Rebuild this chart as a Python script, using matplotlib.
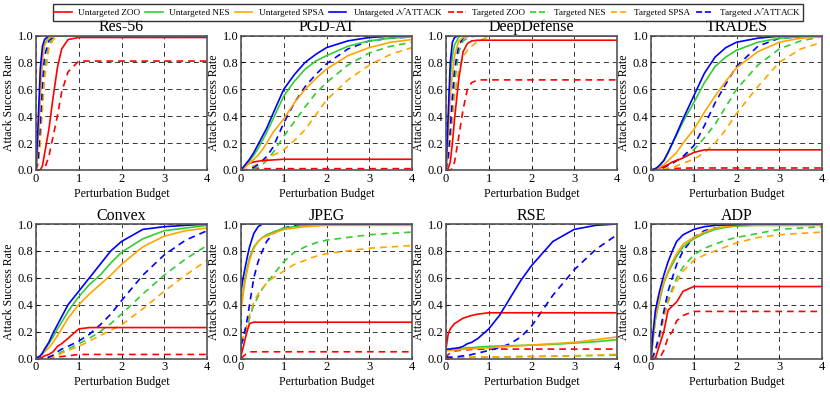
import matplotlib
matplotlib.use("Agg")
import matplotlib.pyplot as plt
from matplotlib.lines import Line2D

plt.rcParams['font.family'] = ['Liberation Serif', 'DejaVu Serif']
plt.rcParams['mathtext.fontset'] = 'stix'

# budget grid shared by all curves
budget = [0, 0.05, 0.1, 0.15, 0.2, 0.3, 0.4, 0.5, 0.6, 0.75, 1.0, 1.25, 1.5, 1.75, 2.0, 2.5, 3.0, 3.5, 4.0]

series_names = ['Untargeted ZOO', 'Untargeted NES', 'Untargeted SPSA', 'Untargeted $\\mathcal{N}$ATTACK',
                'Targeted ZOO', 'Targeted NES', 'Targeted SPSA', 'Targeted $\\mathcal{N}$ATTACK']
colors = ['#ff0000', '#33cc33', '#ffa500', '#0000ff'] * 2
styles = ['-'] * 4 + ['--'] * 4

panel_titles = ['Res-56', 'PGD-AT', 'DeepDefense', 'TRADES', 'Convex', 'JPEG', 'RSE', 'ADP']

# order: UZOO, UNES, USPSA, UNATT, TZOO, TNES, TSPSA, TNATT
res56 = [
    [0, 0, 0, 0.03, 0.12, 0.3, 0.54, 0.76, 0.9, 0.97, 0.985, 0.985, 0.985, 0.985, 0.985, 0.985, 0.985, 0.985, 0.985],
    [0, 0.25, 0.6, 0.85, 0.94, 0.99, 1.0, 1.0, 1.0, 1.0, 1.0, 1.0, 1.0, 1.0, 1.0, 1.0, 1.0, 1.0, 1.0],
    [0, 0.2, 0.55, 0.82, 0.93, 0.98, 0.995, 1.0, 1.0, 1.0, 1.0, 1.0, 1.0, 1.0, 1.0, 1.0, 1.0, 1.0, 1.0],
    [0, 0.35, 0.75, 0.92, 0.97, 1.0, 1.0, 1.0, 1.0, 1.0, 1.0, 1.0, 1.0, 1.0, 1.0, 1.0, 1.0, 1.0, 1.0],
    [0, 0, 0, 0, 0.01, 0.1, 0.25, 0.4, 0.58, 0.73, 0.81, 0.81, 0.81, 0.81, 0.81, 0.81, 0.81, 0.81, 0.81],
    [0, 0.05, 0.25, 0.55, 0.75, 0.93, 0.98, 1.0, 1.0, 1.0, 1.0, 1.0, 1.0, 1.0, 1.0, 1.0, 1.0, 1.0, 1.0],
    [0, 0.04, 0.2, 0.45, 0.68, 0.9, 0.97, 0.99, 1.0, 1.0, 1.0, 1.0, 1.0, 1.0, 1.0, 1.0, 1.0, 1.0, 1.0],
    [0, 0.08, 0.35, 0.65, 0.85, 0.96, 0.99, 1.0, 1.0, 1.0, 1.0, 1.0, 1.0, 1.0, 1.0, 1.0, 1.0, 1.0, 1.0],
]
pgd_at = [
    [0, 0.01, 0.03, 0.04, 0.05, 0.06, 0.065, 0.07, 0.072, 0.075, 0.08, 0.08, 0.08, 0.08, 0.08, 0.08, 0.08, 0.08, 0.08],
    [0, 0.01, 0.03, 0.05, 0.07, 0.11, 0.16, 0.22, 0.28, 0.38, 0.55, 0.66, 0.75, 0.81, 0.85, 0.92, 0.96, 0.98, 0.99],
    [0, 0.01, 0.02, 0.04, 0.05, 0.08, 0.11, 0.15, 0.2, 0.28, 0.38, 0.5, 0.6, 0.68, 0.75, 0.85, 0.91, 0.95, 0.97],
    [0, 0.02, 0.04, 0.06, 0.08, 0.13, 0.19, 0.25, 0.31, 0.42, 0.6, 0.71, 0.8, 0.86, 0.91, 0.96, 0.985, 0.995, 1.0],
    [0, 0, 0, 0, 0.005, 0.01, 0.01, 0.01, 0.01, 0.01, 0.01, 0.01, 0.01, 0.01, 0.01, 0.01, 0.01, 0.01, 0.01],
    [0, 0, 0, 0, 0.005, 0.01, 0.02, 0.04, 0.07, 0.13, 0.25, 0.36, 0.47, 0.57, 0.65, 0.78, 0.87, 0.92, 0.95],
    [0, 0, 0, 0.01, 0.02, 0.03, 0.045, 0.06, 0.08, 0.11, 0.15, 0.22, 0.3, 0.41, 0.52, 0.67, 0.78, 0.86, 0.91],
    [0, 0, 0, 0, 0.005, 0.02, 0.04, 0.07, 0.1, 0.17, 0.35, 0.5, 0.62, 0.71, 0.79, 0.9, 0.96, 0.98, 0.99],
]
deepdefense = [
    [0, 0.01, 0.06, 0.2, 0.38, 0.68, 0.88, 0.94, 0.96, 0.965, 0.965, 0.965, 0.965, 0.965, 0.965, 0.965, 0.965, 0.965, 0.965],
    [0, 0.3, 0.7, 0.85, 0.93, 0.99, 1.0, 1.0, 1.0, 1.0, 1.0, 1.0, 1.0, 1.0, 1.0, 1.0, 1.0, 1.0, 1.0],
    [0, 0.25, 0.55, 0.72, 0.85, 0.96, 0.985, 0.99, 1.0, 1.0, 1.0, 1.0, 1.0, 1.0, 1.0, 1.0, 1.0, 1.0, 1.0],
    [0, 0.4, 0.8, 0.95, 0.985, 1.0, 1.0, 1.0, 1.0, 1.0, 1.0, 1.0, 1.0, 1.0, 1.0, 1.0, 1.0, 1.0, 1.0],
    [0, 0, 0, 0.01, 0.06, 0.25, 0.45, 0.6, 0.65, 0.67, 0.67, 0.67, 0.67, 0.67, 0.67, 0.67, 0.67, 0.67, 0.67],
    [0, 0.08, 0.25, 0.45, 0.65, 0.88, 0.96, 0.98, 0.99, 1.0, 1.0, 1.0, 1.0, 1.0, 1.0, 1.0, 1.0, 1.0, 1.0],
    [0, 0.06, 0.2, 0.38, 0.55, 0.75, 0.84, 0.89, 0.92, 0.96, 0.99, 1.0, 1.0, 1.0, 1.0, 1.0, 1.0, 1.0, 1.0],
    [0, 0.1, 0.3, 0.55, 0.75, 0.93, 0.98, 1.0, 1.0, 1.0, 1.0, 1.0, 1.0, 1.0, 1.0, 1.0, 1.0, 1.0, 1.0],
]
trades = [
    [0, 0, 0.005, 0.01, 0.015, 0.025, 0.04, 0.06, 0.07, 0.09, 0.13, 0.15, 0.15, 0.15, 0.15, 0.15, 0.15, 0.15, 0.15],
    [0, 0.005, 0.01, 0.02, 0.035, 0.07, 0.13, 0.2, 0.26, 0.36, 0.5, 0.65, 0.77, 0.84, 0.89, 0.95, 0.98, 0.99, 0.99],
    [0, 0.003, 0.007, 0.01, 0.02, 0.04, 0.07, 0.1, 0.13, 0.2, 0.3, 0.43, 0.55, 0.66, 0.76, 0.88, 0.95, 0.98, 0.99],
    [0, 0.005, 0.01, 0.02, 0.035, 0.07, 0.13, 0.2, 0.27, 0.38, 0.55, 0.72, 0.84, 0.91, 0.95, 0.98, 0.995, 1.0, 1.0],
    [0, 0, 0, 0, 0, 0.005, 0.008, 0.01, 0.012, 0.014, 0.015, 0.015, 0.015, 0.015, 0.015, 0.015, 0.015, 0.015, 0.015],
    [0, 0, 0, 0.005, 0.01, 0.02, 0.035, 0.05, 0.07, 0.1, 0.15, 0.24, 0.34, 0.47, 0.6, 0.78, 0.9, 0.96, 0.99],
    [0, 0, 0, 0, 0.005, 0.01, 0.015, 0.02, 0.03, 0.05, 0.08, 0.13, 0.2, 0.3, 0.42, 0.62, 0.8, 0.9, 0.95],
    [0, 0, 0, 0.005, 0.01, 0.02, 0.035, 0.05, 0.07, 0.1, 0.18, 0.33, 0.5, 0.64, 0.77, 0.92, 0.98, 0.99, 1.0],
]
convex = [
    [0, 0, 0.005, 0.01, 0.02, 0.03, 0.05, 0.09, 0.11, 0.15, 0.22, 0.23, 0.23, 0.23, 0.23, 0.23, 0.23, 0.23, 0.23],
    [0, 0.01, 0.02, 0.04, 0.06, 0.11, 0.16, 0.22, 0.27, 0.35, 0.46, 0.55, 0.62, 0.71, 0.79, 0.89, 0.95, 0.97, 0.99],
    [0, 0.01, 0.02, 0.03, 0.05, 0.08, 0.12, 0.17, 0.22, 0.3, 0.4, 0.48, 0.55, 0.62, 0.7, 0.83, 0.91, 0.95, 0.97],
    [0, 0.01, 0.02, 0.04, 0.07, 0.12, 0.19, 0.25, 0.31, 0.4, 0.5, 0.6, 0.7, 0.8, 0.87, 0.96, 0.98, 0.99, 1.0],
    [0, 0, 0, 0, 0, 0, 0.005, 0.01, 0.015, 0.02, 0.03, 0.03, 0.03, 0.03, 0.03, 0.03, 0.03, 0.03, 0.03],
    [0, 0, 0, 0, 0.003, 0.007, 0.015, 0.03, 0.05, 0.07, 0.11, 0.15, 0.2, 0.26, 0.33, 0.48, 0.62, 0.74, 0.84],
    [0, 0, 0, 0, 0.002, 0.005, 0.012, 0.02, 0.04, 0.06, 0.09, 0.13, 0.17, 0.21, 0.25, 0.37, 0.5, 0.62, 0.73],
    [0, 0, 0, 0.002, 0.005, 0.01, 0.025, 0.05, 0.07, 0.09, 0.13, 0.18, 0.25, 0.33, 0.43, 0.62, 0.77, 0.88, 0.95],
]
jpeg = [
    [0.02, 0.08, 0.15, 0.21, 0.26, 0.27, 0.27, 0.27, 0.27, 0.27, 0.27, 0.27, 0.27, 0.27, 0.27, 0.27, 0.27, 0.27, 0.27],
    [0.4, 0.5, 0.6, 0.68, 0.75, 0.83, 0.87, 0.9, 0.92, 0.94, 0.97, 0.98, 0.99, 0.995, 1.0, 1.0, 1.0, 1.0, 1.0],
    [0.35, 0.48, 0.58, 0.66, 0.73, 0.82, 0.87, 0.9, 0.91, 0.93, 0.96, 0.97, 0.98, 0.985, 0.99, 0.99, 0.99, 0.99, 0.99],
    [0.5, 0.6, 0.68, 0.76, 0.83, 0.93, 0.98, 1.0, 1.0, 1.0, 1.0, 1.0, 1.0, 1.0, 1.0, 1.0, 1.0, 1.0, 1.0],
    [0, 0.015, 0.03, 0.04, 0.05, 0.05, 0.05, 0.05, 0.05, 0.05, 0.05, 0.05, 0.05, 0.05, 0.05, 0.05, 0.05, 0.05, 0.05],
    [0.1, 0.14, 0.18, 0.24, 0.3, 0.4, 0.46, 0.52, 0.56, 0.62, 0.72, 0.79, 0.83, 0.86, 0.88, 0.9, 0.92, 0.93, 0.94],
    [0.12, 0.16, 0.2, 0.26, 0.32, 0.42, 0.48, 0.52, 0.56, 0.6, 0.65, 0.7, 0.73, 0.76, 0.78, 0.8, 0.82, 0.83, 0.84],
    [0.1, 0.15, 0.22, 0.3, 0.4, 0.6, 0.72, 0.8, 0.87, 0.93, 0.97, 0.99, 1.0, 1.0, 1.0, 1.0, 1.0, 1.0, 1.0],
]
rse = [
    [0.07, 0.18, 0.22, 0.24, 0.26, 0.28, 0.3, 0.31, 0.32, 0.33, 0.34, 0.34, 0.34, 0.34, 0.34, 0.34, 0.34, 0.34, 0.34],
    [0.06, 0.06, 0.065, 0.065, 0.07, 0.07, 0.075, 0.08, 0.08, 0.085, 0.09, 0.093, 0.095, 0.097, 0.1, 0.105, 0.115, 0.125, 0.14],
    [0.06, 0.06, 0.06, 0.06, 0.065, 0.065, 0.07, 0.07, 0.072, 0.075, 0.08, 0.085, 0.09, 0.095, 0.1, 0.11, 0.12, 0.14, 0.16],
    [0.07, 0.07, 0.07, 0.075, 0.075, 0.08, 0.09, 0.11, 0.12, 0.15, 0.22, 0.32, 0.45, 0.58, 0.69, 0.87, 0.96, 0.99, 1.0],
    [0, 0.03, 0.04, 0.05, 0.055, 0.06, 0.063, 0.065, 0.067, 0.068, 0.07, 0.07, 0.07, 0.07, 0.07, 0.07, 0.07, 0.07, 0.07],
    [0, 0, 0, 0.002, 0.004, 0.006, 0.008, 0.01, 0.01, 0.01, 0.01, 0.012, 0.013, 0.014, 0.015, 0.017, 0.02, 0.022, 0.025],
    [0, 0, 0, 0.002, 0.004, 0.006, 0.008, 0.01, 0.01, 0.01, 0.01, 0.012, 0.013, 0.014, 0.015, 0.017, 0.02, 0.025, 0.03],
    [0.01, 0.01, 0.01, 0.01, 0.01, 0.015, 0.02, 0.02, 0.03, 0.04, 0.06, 0.08, 0.11, 0.16, 0.24, 0.47, 0.66, 0.81, 0.92],
]
adp = [
    [0, 0, 0, 0.05, 0.1, 0.2, 0.36, 0.39, 0.42, 0.5, 0.535, 0.535, 0.535, 0.535, 0.535, 0.535, 0.535, 0.535, 0.535],
    [0, 0.14, 0.28, 0.36, 0.43, 0.56, 0.64, 0.7, 0.76, 0.83, 0.89, 0.93, 0.96, 0.975, 0.985, 0.99, 0.99, 0.99, 0.99],
    [0, 0.15, 0.3, 0.38, 0.45, 0.57, 0.65, 0.72, 0.78, 0.85, 0.9, 0.94, 0.97, 0.98, 0.99, 0.99, 0.99, 0.99, 0.99],
    [0, 0.2, 0.35, 0.43, 0.5, 0.62, 0.72, 0.8, 0.87, 0.92, 0.96, 0.98, 0.99, 0.993, 0.995, 1.0, 1.0, 1.0, 1.0],
    [0, 0, 0, 0, 0, 0.06, 0.16, 0.2, 0.28, 0.32, 0.35, 0.35, 0.35, 0.35, 0.35, 0.35, 0.35, 0.35, 0.35],
    [0, 0.01, 0.05, 0.1, 0.15, 0.32, 0.44, 0.52, 0.6, 0.68, 0.77, 0.82, 0.85, 0.88, 0.9, 0.93, 0.96, 0.97, 0.98],
    [0, 0.01, 0.05, 0.1, 0.15, 0.3, 0.42, 0.5, 0.57, 0.65, 0.73, 0.77, 0.8, 0.83, 0.86, 0.9, 0.92, 0.93, 0.94],
    [0, 0.02, 0.06, 0.12, 0.18, 0.35, 0.5, 0.6, 0.7, 0.8, 0.9, 0.95, 0.97, 0.98, 0.99, 0.995, 1.0, 1.0, 1.0],
]
panels = [res56, pgd_at, deepdefense, trades, convex, jpeg, rse, adp]

fig = plt.figure(figsize=(8.3, 3.93), dpi=100)
W, H = 830, 393
lefts = [36, 241, 446, 651]
tops = [35.5, 224]
aw, ah = 171, 134.5

for i, (title, data) in enumerate(zip(panel_titles, panels)):
    r, c = divmod(i, 4)
    ax = fig.add_axes([lefts[c] / W, 1 - (tops[r] + ah) / H, aw / W, ah / H])
    # targeted first so the untargeted lines sit on top
    for k in [4, 5, 6, 7, 0, 1, 2, 3]:
        ax.plot(budget, data[k], color=colors[k], ls=styles[k], lw=1.2,
                dashes=(4, 3) if styles[k] == '--' else (None, None))
    ax.set_xlim(0, 4)
    ax.set_ylim(0, 1)
    ax.set_xticks([0, 1, 2, 3, 4])
    ax.set_yticks([0, 0.2, 0.4, 0.6, 0.8, 1.0])
    ax.set_yticklabels(['0.0', '0.2', '0.4', '0.6', '0.8', '1.0'])
    ax.grid(True, color='black', ls=(0, (5, 4)), lw=0.7, alpha=0.8)
    ax.tick_params(direction='in', length=2, labelsize=9, pad=2)
    for s in ax.spines.values():
        s.set_color('#555555')
        s.set_linewidth(1.2)
    ax.set_title(title, fontsize=11.5, pad=3)
    ax.set_xlabel('Perturbation Budget', fontsize=8.5, labelpad=2)
    ax.set_ylabel('Attack Success Rate', fontsize=8.5, labelpad=2)

handles = [Line2D([], [], color=colors[k], ls=styles[k], lw=1.2) for k in range(8)]
fig.legend(handles, series_names, loc='upper center', bbox_to_anchor=(428 / W, 1 - 4 / H), ncol=8,
           fontsize=6.6, frameon=True, fancybox=False, edgecolor='black', handlelength=1.9,
           columnspacing=0.55, handletextpad=0.7, borderpad=0.2, borderaxespad=0)

fig.savefig('out.png', dpi=100)
